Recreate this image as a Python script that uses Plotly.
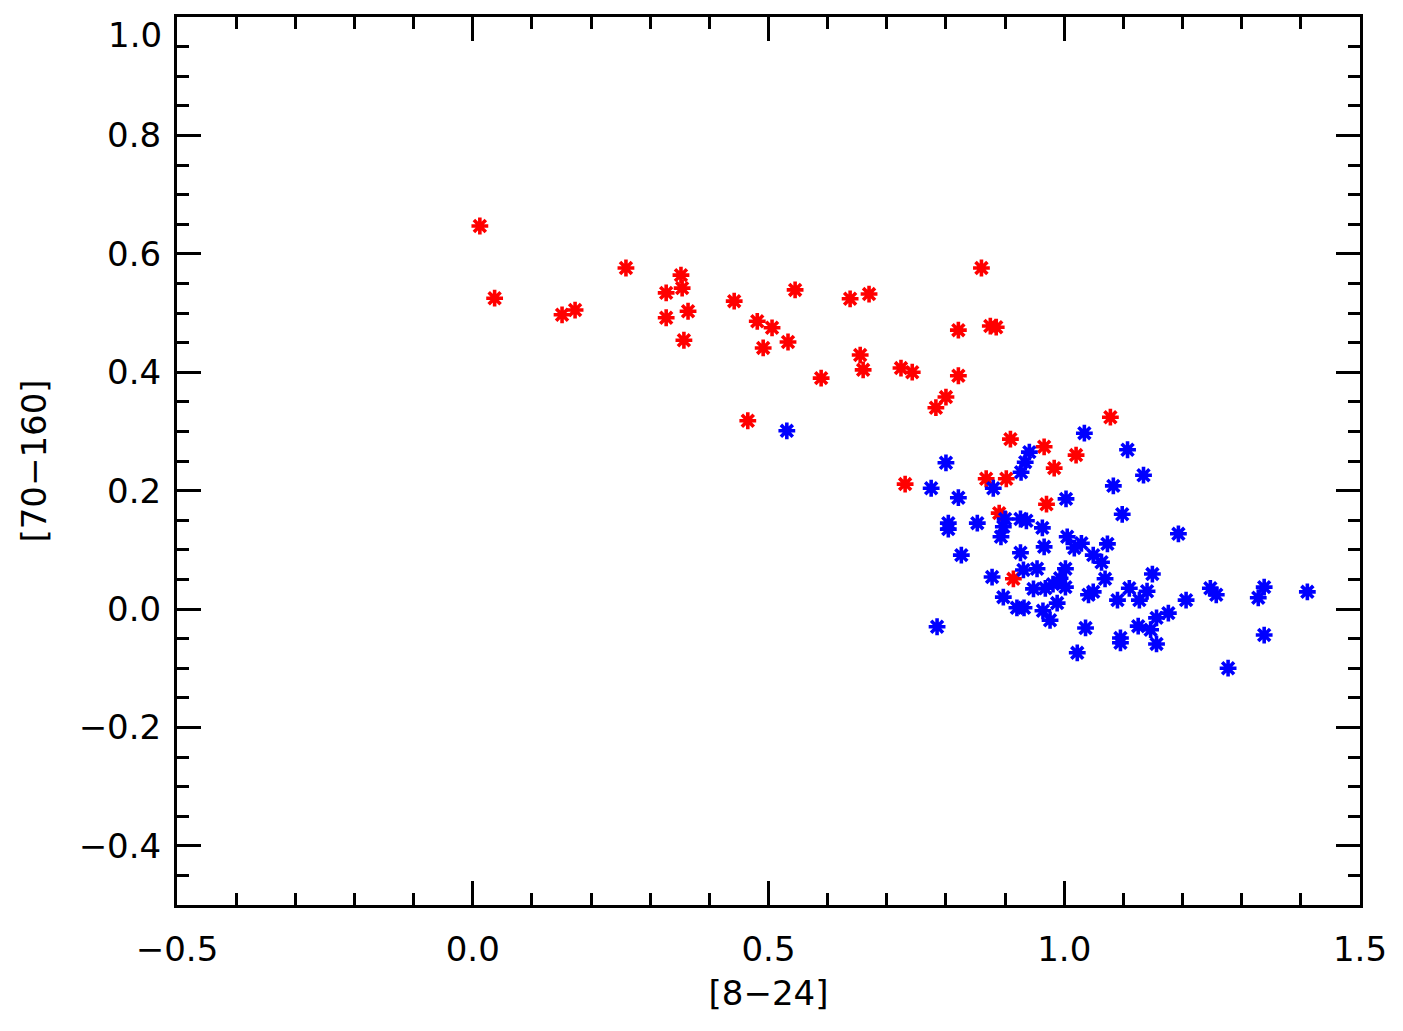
import plotly.graph_objects as go

# Red group: [8-24] and [70-160] colours
red_x = [0.012, 0.037, 0.151, 0.173, 0.259, 0.327, 0.327, 0.352, 0.354, 0.364,
         0.357, 0.442, 0.481, 0.491, 0.506, 0.533, 0.545, 0.465, 0.589, 0.638,
         0.655, 0.660, 0.670, 0.724, 0.743, 0.783, 0.800, 0.821, 0.821, 0.860,
         0.875, 0.885, 0.731, 0.909, 0.966, 0.983, 1.020, 1.078, 0.868, 0.902,
         0.890, 0.970, 0.914]
red_y = [0.647, 0.525, 0.497, 0.505, 0.576, 0.534, 0.492, 0.564, 0.542, 0.503,
         0.454, 0.520, 0.486, 0.441, 0.475, 0.451, 0.539, 0.318, 0.390, 0.524,
         0.429, 0.404, 0.532, 0.407, 0.400, 0.340, 0.358, 0.471, 0.394, 0.576,
         0.478, 0.476, 0.211, 0.287, 0.274, 0.238, 0.260, 0.324, 0.220, 0.220,
         0.162, 0.177, 0.051]

# Blue group
blue_x = [0.531, 0.800, 0.775, 0.821, 0.804, 0.804, 0.826, 0.785, 0.853, 0.880,
          0.878, 0.941, 0.934, 0.927, 1.034, 1.107, 1.134, 1.083, 1.003, 1.098,
          1.193, 0.900, 0.897, 0.893, 0.926, 0.936, 0.963, 1.005, 1.029, 1.073,
          0.966, 1.017, 0.926, 1.049, 1.063, 0.931, 0.954, 1.002, 0.993, 1.069,
          0.948, 0.968, 0.981, 1.002, 1.041, 1.049, 0.897, 0.920, 0.932, 0.988,
          0.964, 0.976, 1.036, 1.022, 1.090, 1.095, 1.095, 1.110, 1.140, 1.127,
          1.149, 1.176, 1.156, 1.125, 1.146, 1.156, 1.206, 1.247, 1.257, 1.328,
          1.338, 1.411, 1.338, 1.277]
blue_y = [0.301, 0.247, 0.204, 0.188, 0.145, 0.135, 0.091, -0.030, 0.145, 0.204,
          0.054, 0.265, 0.248, 0.231, 0.297, 0.269, 0.226, 0.208, 0.186, 0.160,
          0.127, 0.152, 0.139, 0.122, 0.152, 0.149, 0.137, 0.122, 0.111, 0.110,
          0.105, 0.103, 0.095, 0.091, 0.079, 0.066, 0.068, 0.068, 0.052, 0.051,
          0.034, 0.035, 0.042, 0.037, 0.024, 0.029, 0.020, 0.002, 0.002, 0.010,
          -0.003, -0.019, -0.032, -0.074, 0.015, -0.049, -0.057, 0.035, 0.030, 0.015,
          0.059, -0.007, -0.015, -0.029, -0.035, -0.059, 0.015, 0.035, 0.024, 0.019,
          0.037, 0.029, -0.044, -0.100]

x_tickvals = [-0.5, 0.0, 0.5, 1.0, 1.5]
x_ticktext = ["−0.5", "0.0", "0.5", "1.0", "1.5"]
y_tickvals = [-0.4, -0.2, 0.0, 0.2, 0.4, 0.6, 0.8, 1.0]
# top label drawn as an annotation below its tick so it stays inside the page
y_ticktext = ["−0.4", "−0.2", "0.0", "0.2", "0.4", "0.6", "0.8", ""]
y_top_label = "1.0"

x_title = "[8−24]"
y_title = "[70−160]"

marker_common = dict(symbol="asterisk-open", size=14)

fig = go.Figure()
fig.add_trace(go.Scatter(x=red_x, y=red_y, mode="markers",
                         marker=dict(**marker_common, color="#ff0000",
                                     line=dict(color="#ff0000", width=3.6)),
                         showlegend=False))
fig.add_trace(go.Scatter(x=blue_x, y=blue_y, mode="markers",
                         marker=dict(**marker_common, color="#0000ff",
                                     line=dict(color="#0000ff", width=3.6)),
                         showlegend=False))

font_family = "DejaVu Sans, Liberation Sans, sans-serif"
axis_common = dict(
    showline=True, linecolor="black", linewidth=3, mirror="allticks",
    ticks="inside", tickcolor="black", tickwidth=2.5, ticklen=24,
    showgrid=False, zeroline=False, ticklabeloverflow="allow",
    automargin=False,
    tickfont=dict(family=font_family, size=34, color="black"),
    title_font=dict(family=font_family, size=34, color="black"),
)

fig.update_xaxes(**axis_common, range=[-0.5, 1.50001], tickmode="array",
                 tickvals=x_tickvals, ticktext=x_ticktext,
                 ticklabelstandoff=12,
                 minor=dict(ticks="inside", ticklen=12, tickwidth=2.5,
                            tickcolor="black", dtick=0.1, tick0=0),
                 title_text=x_title, title_standoff=14)
fig.update_yaxes(**axis_common, range=[-0.5, 1.00001], tickmode="array",
                 tickvals=y_tickvals, ticktext=y_ticktext,
                 ticklabelstandoff=6,
                 minor=dict(ticks="inside", ticklen=12, tickwidth=2.5,
                            tickcolor="black", dtick=0.05, tick0=0),
                 title_text=y_title, title_standoff=22)

fig.add_annotation(text=y_top_label, xref="paper", x=0, xanchor="right",
                   xshift=-13, yref="y", y=y_tickvals[-1], yanchor="top",
                   yshift=4, showarrow=False,
                   font=dict(family=font_family, size=34, color="black"))

fig.update_layout(
    width=1403, height=1031,
    margin=dict(l=177, r=43, t=17, b=126),
    plot_bgcolor="white", paper_bgcolor="white",
)

fig.write_html("out.html")
